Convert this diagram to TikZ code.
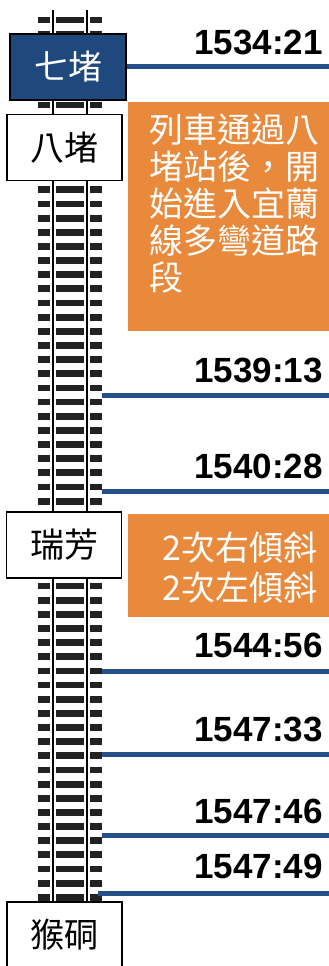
\documentclass[tikz,border=0pt]{standalone}
\usepackage{fontspec}
\setmainfont{Liberation Sans}
\newfontfamily\cjk{Noto Sans CJK TC}
\definecolor{navy}{RGB}{31,73,125}
\definecolor{lineblue}{RGB}{38,80,138}
\definecolor{orng}{RGB}{232,137,60}
\definecolor{tie}{RGB}{34,34,34}
\begin{document}
\begin{tikzpicture}[x=1pt,y=-1pt,
  station/.style={draw=black,line width=1.8pt,fill=white,minimum width=115pt,minimum height=66pt,inner sep=0pt,font=\cjk\fontsize{34}{36}\selectfont},
  timelbl/.style={anchor=base east,inner sep=0pt,font=\bfseries\fontsize{35}{36}\selectfont},
  tline/.style={draw=lineblue,line width=5pt},
  note/.style={fill=orng,draw=none}]
\useasboundingbox (0,0) rectangle (329,966);
\begin{scope}
\clip (0,0) rectangle (329,966);
% ties
\foreach \k in {0,...,68}{
  \fill[tie] (38,{20+14.15*\k-3.4}) rectangle (102,{20+14.15*\k+3.4});
}
% rails
\foreach \x in {53,87}{
  \draw[white,line width=6pt] (\x,10) -- (\x,975);
  \draw[black,line width=2.2pt] (\x,10) -- (\x,975);
}
% stations
\node[station,fill=navy,text=white,minimum width=116pt] (qidu) at (68,67) {七堵};
\node[station] (badu) at (64.5,147.5) {八堵};
\node[station] (ruifang) at (64,545) {瑞芳};
\node[station] (houtong) at (64.5,935) {猴硐};
% notes
\fill[note] (128,102) rectangle (329,331);
\node[anchor=north west,inner sep=0pt,text=white,align=left,font=\cjk\fontsize{34}{37}\selectfont] (note1) at (149,114)
  {列車通過八\\堵站後，開\\始進入宜蘭\\線多彎道路\\段};
\fill[note] (128,514) rectangle (329,617);
\node[anchor=east,inner sep=0pt,text=white,align=right,font=\cjk\fontsize{34}{40}\selectfont] (note2) at (318,568)
  {2次右傾斜\\2次左傾斜};
% time lines
\coordinate (e1) at (329,67);
\coordinate (s2) at (102,395); \coordinate (e2) at (329,395);
\coordinate (s3) at (102,491); \coordinate (e3) at (329,491);
\coordinate (s4) at (102,671); \coordinate (e4) at (329,671);
\coordinate (s5) at (102,754); \coordinate (e5) at (329,754);
\coordinate (s6) at (102,835); \coordinate (e6) at (329,835);
\coordinate (s7) at (98,893); \coordinate (e7) at (329,893);
\draw[tline] (qidu.east) -- (e1);
\draw[tline] (s2) -- (e2);
\draw[tline] (s3) -- (e3);
\draw[tline] (s4) -- (e4);
\draw[tline] (s5) -- (e5);
\draw[tline] (s6) -- (e6);
\draw[tline] (s7) -- (e7);
% labels
\node[timelbl] (t1) at (323,55) {1534:21};
\node[timelbl] (t2) at (323,382) {1539:13};
\node[timelbl] (t3) at (323,478) {1540:28};
\node[timelbl] (t4) at (323,657) {1544:56};
\node[timelbl] (t5) at (323,741) {1547:33};
\node[timelbl] (t6) at (323,823) {1547:46};
\node[timelbl] (t7) at (323,878) {1547:49};
\end{scope}
\end{tikzpicture}
\end{document}
